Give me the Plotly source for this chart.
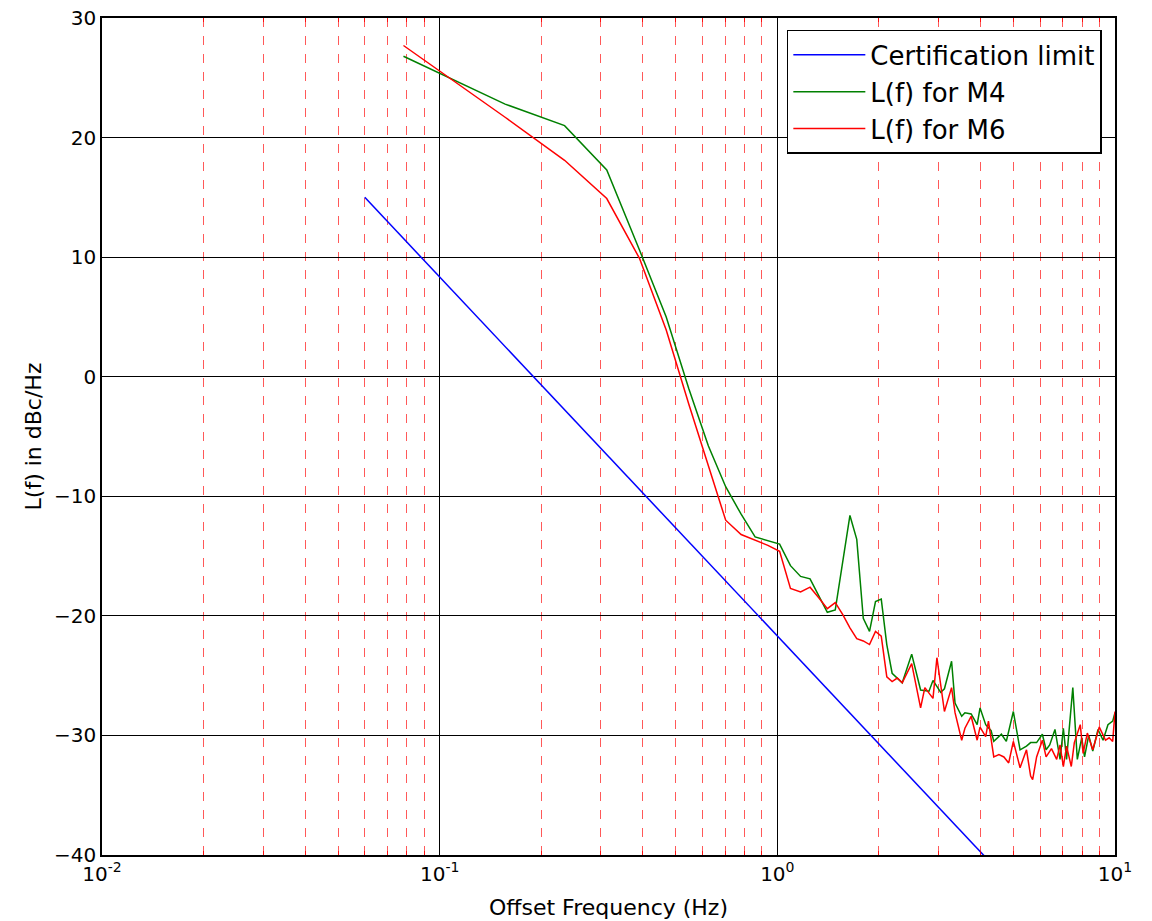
import plotly.graph_objects as go

BIN = 0.078125  # frequency resolution (Hz)

# Certification limit
cert_f = [0.06, 10.0]
cert_L = [15.0, -51.7]

# L(f) for M4 : bin index, value (dBc/Hz)
m4_k = [1, 2, 3, 4, 5, 6, 7, 8, 9, 10, 11, 12, 13, 14, 15, 16, 17, 18, 19, 20,
        21, 22, 23, 24, 25, 26, 27, 28, 30, 32, 34, 36, 37, 39, 40, 42, 43, 45, 46, 48,
        50, 51, 53, 55, 56, 59, 61, 64, 67, 70, 72, 75, 78, 80, 82, 85, 88, 90, 92, 96,
        99, 102, 104, 107, 110, 114, 118, 122, 126, 128]
m4_L = [26.8, 22.8, 21.0, 17.3, 10.6, 5.0, -1.0, -5.8, -9.2, -11.5, -13.4, -13.7, -14.0, -15.8, -16.7, -16.9, -18.4, -19.7, -19.5, -15.5,
        -11.6, -13.6, -20.2, -21.3, -18.8, -18.6, -22.4, -24.8, -25.6, -23.2, -26.2, -26.3, -25.4, -26.4, -26.1, -23.8, -27.3, -28.4, -28.1, -28.2,
        -29.1, -27.7, -29.1, -29.6, -30.5, -29.9, -30.5, -28.0, -31.2, -30.9, -30.6, -30.6, -29.9, -31.2, -30.8, -29.5, -32.0, -29.4, -32.0, -26.0,
        -32.0, -30.2, -31.8, -30.0, -31.3, -29.5, -30.4, -29.1, -28.8, -28.1]

# L(f) for M6
m6_k = [1, 2, 3, 4, 5, 6, 7, 8, 9, 10, 11, 12, 13, 14, 15, 16, 17, 18, 19, 20,
        21, 22, 23, 24, 25, 26, 27, 28, 29, 30, 32, 34, 35, 37, 38, 40, 42, 43, 45, 46,
        48, 50, 51, 53, 54, 56, 58, 60, 62, 64, 67, 70, 72, 73, 75, 78, 80, 83, 86, 88,
        90, 92, 95, 97, 101, 103, 106, 110, 115, 120, 123, 126, 128]
m6_L = [27.7, 21.7, 18.1, 14.9, 9.9, 3.9, -2.3, -7.5, -12.0, -13.2, -13.7, -14.1, -14.6, -17.7, -18.0, -17.6, -18.5, -19.4, -18.9, -19.9,
        -21.0, -21.9, -22.1, -22.4, -21.3, -21.7, -25.1, -25.5, -25.2, -25.6, -24.0, -27.7, -26.0, -26.9, -23.5, -28.0, -26.0, -28.1, -30.4, -29.4,
        -28.4, -30.4, -29.3, -30.1, -28.8, -31.8, -31.6, -31.8, -32.3, -30.5, -32.7, -31.2, -33.4, -33.7, -31.8, -30.4, -31.8, -31.1, -32.0, -30.8,
        -32.6, -30.9, -32.6, -30.6, -29.1, -31.5, -29.8, -31.2, -29.3, -30.4, -30.2, -30.5, -28.0]

x_tickvals = [0.01, 0.1, 1, 10]
x_ticktext = ["10<sup>-2</sup>", "10<sup>-1</sup>", "10<sup>0</sup>", "10<sup>1</sup>"]
y_tickvals = [-40, -30, -20, -10, 0, 10, 20, 30]

m4_f = [k * BIN for k in m4_k]
m6_f = [k * BIN for k in m6_k]

fig = go.Figure()
fig.add_trace(go.Scatter(x=cert_f, y=cert_L, mode="lines", name="Certification limit",
                         line=dict(color="#0000ff", width=1.5), legendgroup="a"))
fig.add_trace(go.Scatter(x=m4_f, y=m4_L, mode="lines", name="L(f) for M4",
                         line=dict(color="#008000", width=1.5), legendgroup="b"))
fig.add_trace(go.Scatter(x=m6_f, y=m6_L, mode="lines", name="L(f) for M6",
                         line=dict(color="#ff0000", width=1.5), legendgroup="c"))

font = "DejaVu Sans, Verdana, sans-serif"
fig.update_layout(
    width=1144, height=913,
    margin=dict(l=94, r=37, t=10, b=66),
    paper_bgcolor="white", plot_bgcolor="white",
    font=dict(family=font, size=18, color="black"),
    showlegend=True,
    legend=dict(x=0.987, y=0.9857, xanchor="right", yanchor="top",
                bgcolor="white", bordercolor="black", borderwidth=1.5,
                font=dict(size=26), tracegroupgap=0, itemwidth=72),
    xaxis=dict(type="log", range=[-2, 1], tickvals=x_tickvals, ticktext=x_ticktext,
               ticks="inside", ticklen=8, tickcolor="black", mirror="ticks",
               showline=True, linecolor="black", linewidth=1.5,
               showgrid=True, gridcolor="black", gridwidth=1,
               minor=dict(dtick="D1", ticks="inside", ticklen=4, tickcolor="rgba(255,0,0,0.8)",
                          showgrid=True, gridcolor="rgba(255,0,0,0.65)", griddash="dash", gridwidth=1),
               title=dict(text="Offset Frequency (Hz)", standoff=15),
               zeroline=False, tickfont=dict(size=20), automargin=False,
               ticklabeloverflow="allow"),
    yaxis=dict(range=[-40, 30], tickvals=y_tickvals,
               ticks="inside", ticklen=8, tickcolor="black", mirror="ticks",
               showline=True, linecolor="black", linewidth=1.5,
               showgrid=True, gridcolor="black", gridwidth=1,
               title=dict(text="L(f) in dBc/Hz", standoff=6),
               zeroline=False, tickfont=dict(size=20), automargin=False,
               ticklabeloverflow="allow"),
)

fig.write_html("out.html")
